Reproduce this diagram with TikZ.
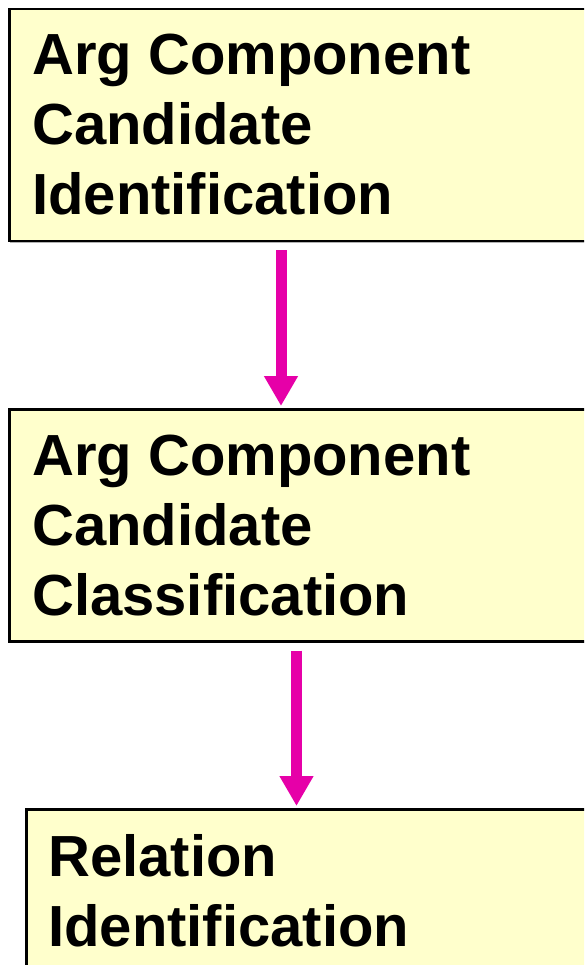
\documentclass[tikz,border=0pt]{standalone}
\usepackage{fontspec}
\setmainfont{Liberation Sans}
\usetikzlibrary{arrows.meta}
\definecolor{boxfill}{HTML}{FFFFCC}
\definecolor{flow}{RGB}{230,0,168}
\begin{document}
\begin{tikzpicture}[x=1pt,y=-1pt,
  stage/.style={draw=black, line width=2.5pt, fill=boxfill, rectangle,
    anchor=north west, inner sep=0pt, minimum width=#1},
  stage/.default=620pt,
  label/.style={anchor=base west, inner sep=0pt, align=left,
    font=\fontsize{58pt}{70pt}\selectfont\bfseries},
  flowarrow/.style={draw=flow, line width=11pt,
    -{Triangle[length=30pt,width=32pt]}}]
\useasboundingbox (0,0) rectangle (584,965);
\clip (0,0) rectangle (584,965);
\fill[white] (0,0) rectangle (584,965);

% stage boxes (soft shadow line beneath, then the box)
\draw[gray!60, line width=1.5pt] (10,242) -- (620,242);
\draw[gray!60, line width=1.5pt] (10,642) -- (620,642);
\node[stage, minimum height=232pt] (b1) at (8,8) {};
\node[stage, minimum height=232pt] (b2) at (8,408) {};
\node[stage, minimum height=200pt] (b3) at (25,808) {};

% stage titles (anchored at the baseline of the last line)
\node[label] (t1) at (32,215) {Arg Component\\Candidate\\Identification};
\node[label] (t2) at (32,615) {Arg Component\\Candidate\\Classification};
\node[label] (t3) at (48,946) {Relation\\Identification};

% flow arrows between stages
\coordinate (c1) at (281,0);
\coordinate (c2) at (296.5,0);
\draw[flowarrow, shorten <=8pt, shorten >=2pt] (b1.south -| c1) -- (b2.north -| c1);
\draw[flowarrow, shorten <=8pt, shorten >=2pt] (b2.south -| c2) -- (b3.north -| c2);
\end{tikzpicture}
\end{document}
